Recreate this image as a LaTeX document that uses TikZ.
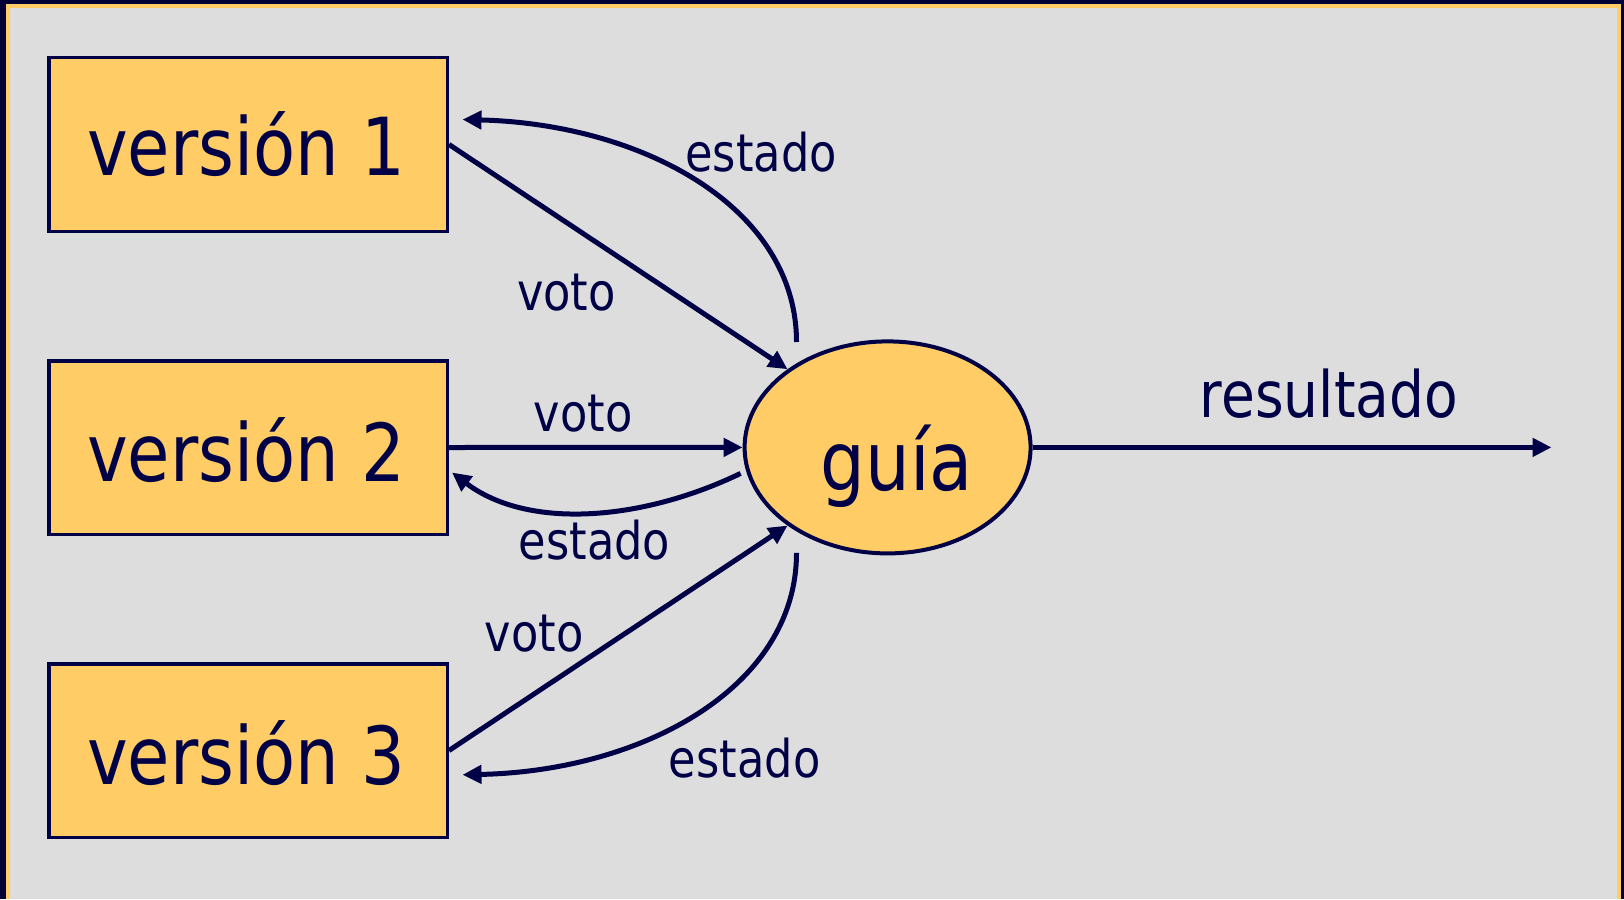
\documentclass[tikz,border=0pt]{standalone}
\usepackage{fontspec}
\setmainfont[FakeStretch=0.86]{DejaVu Sans}
\usetikzlibrary{arrows.meta,shapes.geometric}
\definecolor{navy}{RGB}{0,0,70}
\definecolor{framenavy}{RGB}{0,0,55}
\definecolor{boxfill}{RGB}{255,204,102}
\definecolor{bg}{RGB}{221,221,221}
\tikzset{
  vbox/.style={draw=navy, fill=boxfill, line width=3.5pt, minimum width=398.5pt, minimum height=173.5pt, inner sep=0pt},
  bigtxt/.style={text=navy, anchor=base, inner sep=0pt, font=\fontsize{80}{90}\selectfont},
  lbl/.style={text=navy, anchor=base, inner sep=0pt, font=\fontsize{52}{60}\selectfont},
  conn/.style={draw=navy, line width=5pt, -{Triangle[length=19pt,width=18pt]}},
}
\begin{document}
\begin{tikzpicture}[x=1pt,y=1pt]
\useasboundingbox (0,0) rectangle (1624,-899);
% frame
\fill[framenavy] (0,0) rectangle (1624,-899);
\fill[boxfill] (6,-4) rectangle (1620.7,-899);
\fill[bg] (10,-8) rectangle (1616.7,-899);
% boxes
\node[vbox] (b1) at (248,-144.5) {};
\node[vbox] (b2) at (248,-447.5) {};
\node[vbox] (b3) at (248,-750.5) {};
\node[bigtxt] (t1) at (246,-175) {versión 1};
\node[bigtxt] (t2) at (246,-481) {versión 2};
\node[bigtxt] (t3) at (246,-784) {versión 3};
% guide
\node[ellipse, draw=navy, fill=boxfill, line width=4pt, minimum width=286pt, minimum height=212pt, inner sep=0pt] (g) at (887.6,-447.4) {};
\node[bigtxt, font=\fontsize{82}{92}\selectfont] (gt) at (897,-490) {guía};
% connectors
\draw[conn] (b1.east) -- (g.142);
\draw[conn] ([xshift=-91.1pt,yshift=-2.6pt]g.north) .. controls +(0,135) and (642,-124) .. ([xshift=13.5pt,yshift=25pt]b1.east);
\draw[conn] (b2.east) -- (g.west);
\draw[conn] ([xshift=-2pt,yshift=-26pt]g.west) .. controls (642,-521) and (528,-530) .. ([xshift=3pt,yshift=-25pt]b2.east);
\draw[conn] (b3.east) -- (g.218);
\draw[conn] ([xshift=-91.1pt,yshift=2.6pt]g.south) .. controls +(0,-135) and (642,-771) .. ([xshift=13.5pt,yshift=-24.3pt]b3.east);
\coordinate (out) at (1551.5,-447.4);
\draw[conn] (g.east) -- (out);
% labels
\node[lbl] (l1) at (761,-171) {estado};
\node[lbl] (l2) at (566.5,-310) {voto};
\node[lbl] (l3) at (583,-431) {voto};
\node[lbl] (l4) at (594.5,-559) {estado};
\node[lbl] (l5) at (534,-651.5) {voto};
\node[lbl] (l6) at (744.7,-777) {estado};
\node[lbl, font=\fontsize{64}{72}\selectfont] (l7) at (1329,-417) {resultado};
\end{tikzpicture}
\end{document}
